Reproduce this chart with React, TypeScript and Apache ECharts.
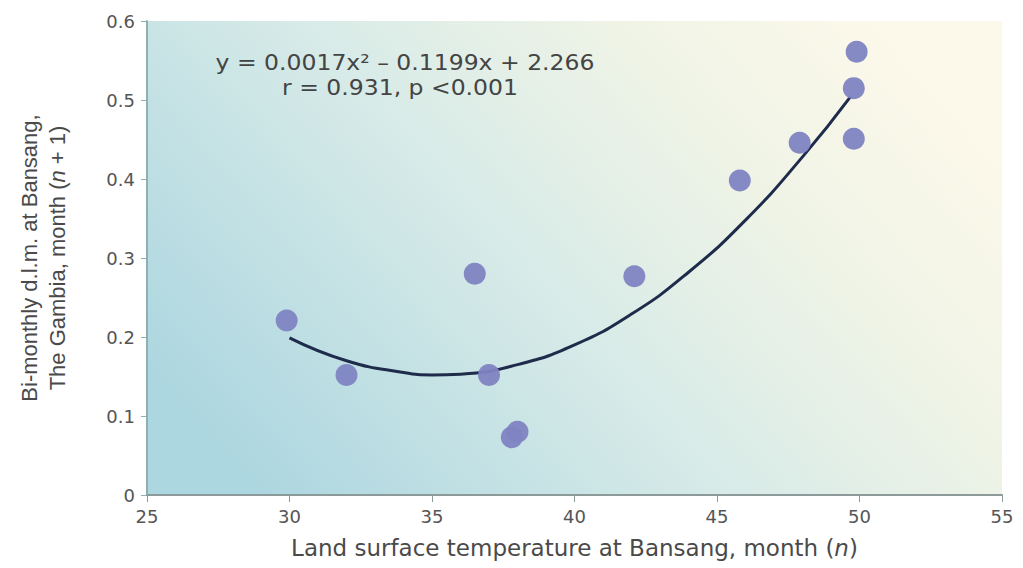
import React, { useEffect, useRef } from "react";
import * as echarts from "echarts";

const xTicks = [25, 30, 35, 40, 45, 50, 55];
const yTicks = [0, 0.1, 0.2, 0.3, 0.4, 0.5, 0.6];

const pointX = [29.9, 32.0, 36.5, 37.0, 37.8, 38.0, 42.1, 45.8, 47.9, 49.8, 49.8, 49.9];
const pointY = [0.221, 0.152, 0.28, 0.152, 0.073, 0.08, 0.277, 0.398, 0.446, 0.451, 0.515, 0.561];

const fitX = [30, 32, 34, 35, 36, 38, 40, 42, 44, 46, 48, 49.7];
const fitY = [0.199, 0.17, 0.155, 0.152, 0.153, 0.165, 0.19, 0.229, 0.282, 0.348, 0.428, 0.505];

const equationLine1 = "y = 0.0017x² – 0.1199x + 2.266";
const equationLine2 = "r = 0.931, p <0.001";

const FONT = "DejaVu Sans, Liberation Sans, sans-serif";
const FONT_V = "Liberation Sans, Arial, sans-serif";

export default function App() {
  const ref = useRef<HTMLDivElement>(null);
  useEffect(() => {
    document.body.style.margin = "0";
    const chart = echarts.init(ref.current!, null, { renderer: "svg" });
    const option: any = {
      animation: false,
      backgroundColor: "#ffffff",
      textStyle: { fontFamily: FONT },
      grid: {
        left: 147,
        right: 21,
        top: 21,
        bottom: 73,
        show: true,
        borderWidth: 0,
        backgroundColor: new echarts.graphic.LinearGradient(0, 0.75, 1, 0.25, [
          { offset: 0, color: "#acd6e0" },
          { offset: 0.45, color: "#d8ebe8" },
          { offset: 0.72, color: "#eef3e6" },
          { offset: 1, color: "#fdf9ea" },
        ]),
      },
      xAxis: {
        type: "value",
        min: xTicks[0],
        max: xTicks[xTicks.length - 1],
        interval: 5,
        name: "Land surface temperature at Bansang, month ({i|n})",
        nameLocation: "middle",
        nameGap: 41,
        nameTextStyle: {
          fontSize: 23,
          color: "#4a4a4a",
          fontFamily: FONT,
          rich: { i: { fontStyle: "italic", fontSize: 23, color: "#4a4a4a", fontFamily: FONT } },
        },
        axisLine: { show: true, lineStyle: { color: "#8c9a9a", width: 2 } },
        axisTick: { show: true, length: 7, lineStyle: { color: "#8c9a9a" } },
        axisLabel: { fontSize: 18, color: "#555", margin: 12, fontFamily: FONT },
        splitLine: { show: false },
      },
      yAxis: {
        type: "value",
        min: yTicks[0],
        max: yTicks[yTicks.length - 1],
        interval: 0.1,
        name: "Bi-monthly d.l.m. at Bansang,\nThe Gambia, month ({i|n} + 1)",
        nameLocation: "middle",
        nameGap: 76,
        nameTextStyle: {
          fontSize: 22,
          color: "#4a4a4a",
          lineHeight: 28,
          fontFamily: FONT_V,
          rich: {
            i: { fontStyle: "italic", fontSize: 22, lineHeight: 28, color: "#4a4a4a", fontFamily: FONT_V },
          },
        },
        axisLine: { show: true, lineStyle: { color: "#8fb0b0", width: 2 } },
        axisTick: { show: true, length: 6, lineStyle: { color: "#8fb0b0" } },
        axisLabel: {
          fontSize: 18,
          color: "#555",
          margin: 12,
          fontFamily: FONT,
          formatter: (v: number) => (v === 0 ? "0" : v.toFixed(1)),
        },
        splitLine: { show: false },
      },
      graphic: [
        {
          type: "text",
          x: 405,
          y: 62,
          scaleX: 1.12,
          style: {
            text: equationLine1,
            fontSize: 21,
            fill: "#444",
            fontFamily: FONT,
            align: "center",
            verticalAlign: "middle",
          },
        },
        {
          type: "text",
          x: 400,
          y: 87,
          scaleX: 1.12,
          style: {
            text: equationLine2,
            fontSize: 21,
            fill: "#444",
            fontFamily: FONT,
            align: "center",
            verticalAlign: "middle",
          },
        },
      ],
      series: [
        {
          type: "line",
          data: fitX.map((x, i) => [x, fitY[i]]),
          smooth: true,
          showSymbol: false,
          symbol: "none",
          lineStyle: { color: "#1e2b4a", width: 3 },
          z: 2,
        },
        {
          type: "scatter",
          data: pointX.map((x, i) => [x, pointY[i]]),
          symbolSize: 22,
          itemStyle: { color: "#7f84c2", opacity: 0.95 },
          z: 3,
        },
      ],
    };
    chart.setOption(option);
    return () => chart.dispose();
  }, []);
  return <div ref={ref} style={{ width: 1023, height: 568 }} />;
}
